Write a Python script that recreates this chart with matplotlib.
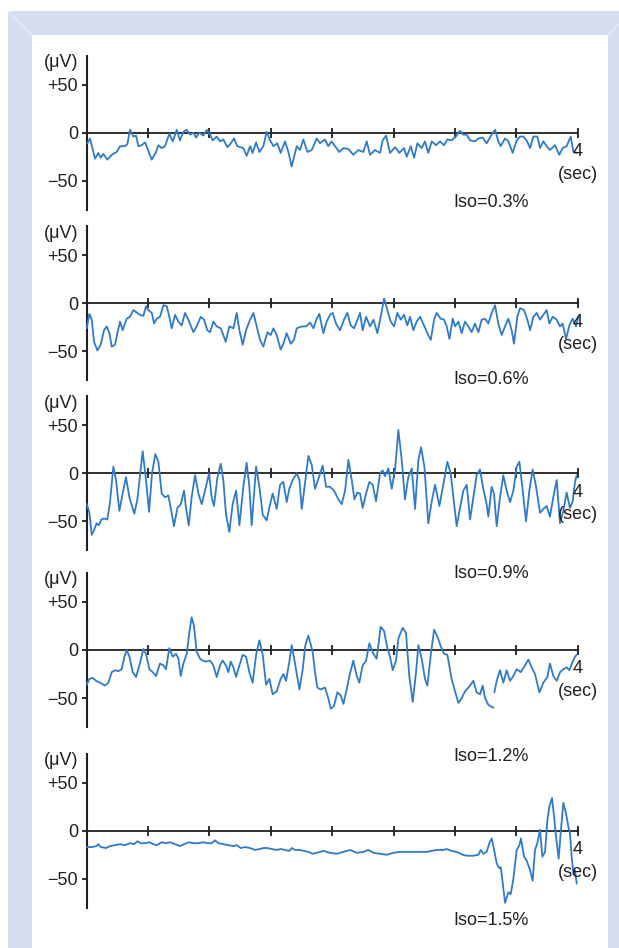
import numpy as np
import matplotlib.pyplot as plt
from matplotlib.patches import Rectangle
from matplotlib.lines import Line2D

plt.rcParams['font.family'] = ['Liberation Sans', 'DejaVu Sans']

# EEG traces: time (sec) and amplitude (uV)
t_iso03 = [0.005, 0.027, 0.068, 0.095, 0.114, 0.136, 0.168, 0.204, 0.244, 0.272, 0.312, 0.331, 0.353, 0.380,
           0.402, 0.421, 0.448, 0.475, 0.530, 0.565, 0.584, 0.611, 0.638, 0.673, 0.701, 0.733, 0.760, 0.788,
           0.815, 0.842, 0.869, 0.891, 0.918, 0.950, 0.978, 1.005, 1.026, 1.059, 1.086, 1.113, 1.146, 1.168,
           1.200, 1.227, 1.276, 1.303, 1.331, 1.352, 1.380, 1.407, 1.439, 1.466, 1.494, 1.521, 1.553, 1.580,
           1.616, 1.643, 1.670, 1.711, 1.738, 1.765, 1.798, 1.833, 1.874, 1.901, 1.941, 1.968, 1.995, 2.023,
           2.058, 2.091, 2.132, 2.172, 2.213, 2.254, 2.281, 2.308, 2.349, 2.390, 2.411, 2.439, 2.471, 2.512,
           2.547, 2.585, 2.607, 2.640, 2.667, 2.694, 2.729, 2.756, 2.783, 2.811, 2.846, 2.878, 2.911, 2.938,
           2.973, 3.014, 3.041, 3.068, 3.096, 3.123, 3.163, 3.191, 3.226, 3.258, 3.299, 3.327, 3.353, 3.372,
           3.408, 3.435, 3.470, 3.503, 3.530, 3.557, 3.584, 3.612, 3.639, 3.671, 3.693, 3.720, 3.747, 3.774,
           3.815, 3.850, 3.877, 3.910, 3.943, 3.965, 3.992]
uv_iso03 = [-11, -6, -27, -21, -26, -22, -28, -23, -20, -14, -14, -12, 3, -4,
            -3, -14, -13, -10, -28, -20, -13, -16, -14, -1, -9, 3, -8, 1,
            3, -2, 0, -5, 0, -3, 3, -2, -8, -4, -9, -7, -15, -12,
            -6, -14, -16, -24, -14, -21, -10, -20, -14, 1, -8, -14, -11, -21,
            -9, -20, -35, -14, -18, -7, -20, -18, -6, -11, -7, -14, -9, -14,
            -20, -16, -17, -23, -18, -20, -9, -23, -18, -21, -8, -3, -21, -15,
            -21, -16, -25, -14, -26, -11, -16, -9, -21, -9, -13, -9, -13, -7,
            -8, -3, 2, -2, -2, -8, -9, -6, -5, -11, -2, 3, -9, -14,
            -6, -9, -21, -8, -4, -4, -8, -16, -4, -4, -16, -9, -14, -18,
            -13, -23, -16, -14, -4, -20, -21]

t_iso06 = [0.000, 0.022, 0.041, 0.060, 0.087, 0.114, 0.141, 0.163, 0.185, 0.204, 0.231, 0.250, 0.272, 0.293,
           0.326, 0.353, 0.380, 0.413, 0.434, 0.462, 0.483, 0.502, 0.530, 0.549, 0.570, 0.597, 0.625, 0.652,
           0.673, 0.692, 0.720, 0.747, 0.774, 0.801, 0.828, 0.869, 0.896, 0.929, 0.956, 0.983, 1.005, 1.032,
           1.059, 1.092, 1.113, 1.132, 1.162, 1.195, 1.222, 1.244, 1.271, 1.298, 1.331, 1.358, 1.385, 1.412,
           1.439, 1.472, 1.499, 1.521, 1.548, 1.580, 1.602, 1.629, 1.662, 1.689, 1.711, 1.752, 1.787, 1.819,
           1.847, 1.874, 1.895, 1.928, 1.955, 1.982, 2.004, 2.031, 2.064, 2.096, 2.124, 2.151, 2.178, 2.200,
           2.227, 2.248, 2.276, 2.308, 2.336, 2.368, 2.395, 2.423, 2.449, 2.477, 2.504, 2.531, 2.558, 2.585,
           2.612, 2.634, 2.661, 2.688, 2.716, 2.748, 2.775, 2.803, 2.830, 2.851, 2.884, 2.911, 2.933, 2.955,
           2.982, 3.001, 3.028, 3.055, 3.082, 3.109, 3.136, 3.163, 3.191, 3.218, 3.245, 3.272, 3.299, 3.327,
           3.353, 3.381, 3.408, 3.435, 3.462, 3.481, 3.508, 3.530, 3.563, 3.590, 3.612, 3.639, 3.666, 3.693,
           3.720, 3.747, 3.769, 3.796, 3.828, 3.856, 3.877, 3.905, 3.932, 3.959, 3.986, 4.005]
uv_iso06 = [-26, -11, -17, -40, -49, -43, -28, -24, -31, -45, -43, -31, -19, -28,
            -16, -14, -7, -10, -12, -13, -3, -7, -10, -21, -16, -14, -2, -3,
            -14, -26, -12, -19, -23, -10, -17, -30, -24, -14, -17, -28, -30, -19,
            -24, -26, -33, -40, -24, -26, -10, -28, -43, -28, -17, -10, -24, -38,
            -45, -30, -33, -26, -33, -48, -42, -31, -42, -38, -26, -24, -24, -20,
            -26, -16, -11, -31, -19, -12, -10, -21, -28, -17, -10, -23, -26, -19,
            -10, -28, -14, -24, -17, -31, -14, 5, -7, -19, -24, -10, -17, -12,
            -23, -14, -28, -19, -14, -23, -31, -38, -17, -10, -16, -17, -24, -37,
            -16, -24, -19, -31, -19, -24, -30, -21, -30, -17, -16, -21, -10, -2,
            -21, -33, -24, -16, -28, -42, -14, -5, -7, -17, -28, -14, -10, -17,
            -12, -7, -21, -14, -17, -24, -21, -37, -23, -16, -24, -14]

t_iso09 = [0.000, 0.022, 0.041, 0.060, 0.081, 0.100, 0.119, 0.141, 0.168, 0.190, 0.217, 0.239, 0.266, 0.293,
           0.320, 0.348, 0.388, 0.413, 0.456, 0.483, 0.508, 0.532, 0.559, 0.584, 0.611, 0.638, 0.665, 0.692,
           0.711, 0.739, 0.766, 0.793, 0.809, 0.831, 0.855, 0.883, 0.910, 0.937, 0.964, 0.997, 1.018, 1.037,
           1.064, 1.092, 1.113, 1.135, 1.162, 1.189, 1.217, 1.244, 1.276, 1.303, 1.325, 1.344, 1.380, 1.407,
           1.434, 1.466, 1.494, 1.515, 1.548, 1.575, 1.602, 1.629, 1.651, 1.678, 1.711, 1.733, 1.752, 1.771,
           1.806, 1.833, 1.860, 1.887, 1.923, 1.950, 1.982, 2.015, 2.050, 2.077, 2.105, 2.132, 2.159, 2.181,
           2.205, 2.227, 2.248, 2.276, 2.303, 2.330, 2.357, 2.390, 2.411, 2.430, 2.458, 2.485, 2.512, 2.539,
           2.566, 2.593, 2.620, 2.648, 2.675, 2.702, 2.724, 2.751, 2.783, 2.811, 2.838, 2.873, 2.906, 2.938,
           2.965, 2.987, 3.014, 3.041, 3.068, 3.096, 3.123, 3.150, 3.177, 3.204, 3.231, 3.258, 3.272, 3.299,
           3.318, 3.340, 3.367, 3.394, 3.421, 3.449, 3.476, 3.503, 3.525, 3.552, 3.579, 3.606, 3.633, 3.661,
           3.693, 3.720, 3.747, 3.774, 3.801, 3.829, 3.856, 3.883, 3.910, 3.937, 3.959, 3.978, 3.992]
uv_iso09 = [-32, -41, -64, -59, -52, -54, -48, -47, -48, -30, 7, -7, -39, -21,
            -4, -25, -42, -27, 23, -7, -40, 0, 20, 12, -21, -25, -23, -41,
            -55, -36, -32, -18, -36, -54, -25, -2, -21, -32, -18, 0, -25, -34,
            -5, 10, -7, -43, -61, -32, -18, -54, -14, 11, -14, -54, 7, -14,
            -43, -49, -32, -21, -37, -12, -9, -30, -16, -7, 0, -7, -37, -18,
            18, 9, -16, -6, 8, -14, -14, -18, -27, -32, -18, 14, -7, -27,
            -20, -21, -36, -21, -9, -12, -29, 0, 3, -3, 5, -16, 4, 45,
            14, -27, -4, 5, -37, 14, 27, 7, -52, -29, -12, -34, -11, 12,
            0, -25, -55, -36, -18, -12, -48, -25, -2, 4, -16, -32, -45, -14,
            -21, -55, -25, -2, -18, -30, -18, 7, 12, -18, -50, -18, 4, -14,
            -41, -37, -34, -45, -25, -7, -52, -39, -20, -36, -29, -9, -2]

t_iso12 = [0.000, 0.022, 0.049, 0.076, 0.109, 0.149, 0.177, 0.204, 0.231, 0.258, 0.285, 0.307, 0.326, 0.348,
           0.375, 0.402, 0.429, 0.462, 0.483, 0.511, 0.538, 0.565, 0.597, 0.625, 0.646, 0.673, 0.701, 0.728,
           0.747, 0.766, 0.788, 0.815, 0.836, 0.855, 0.874, 0.896, 0.923, 0.945, 0.972, 1.005, 1.032, 1.059,
           1.086, 1.108, 1.135, 1.154, 1.173, 1.195, 1.217, 1.244, 1.271, 1.298, 1.325, 1.352, 1.380, 1.407,
           1.434, 1.461, 1.488, 1.515, 1.548, 1.580, 1.602, 1.624, 1.651, 1.670, 1.697, 1.733, 1.760, 1.781,
           1.806, 1.833, 1.841, 1.860, 1.879, 1.906, 1.941, 1.968, 1.988, 2.015, 2.042, 2.069, 2.091, 2.118,
           2.140, 2.172, 2.200, 2.221, 2.248, 2.276, 2.303, 2.336, 2.362, 2.395, 2.422, 2.449, 2.471, 2.493,
           2.520, 2.539, 2.574, 2.601, 2.628, 2.656, 2.683, 2.702, 2.729, 2.756, 2.775, 2.803, 2.830, 2.857,
           2.884, 2.911, 2.938, 2.973, 3.001, 3.028, 3.055, 3.082, 3.123, 3.150, 3.177, 3.204, 3.226, 3.245,
           3.272, 3.299, 3.313, 3.317, 3.321, 3.340, 3.367, 3.394, 3.421, 3.449, 3.476, 3.503, 3.536, 3.571,
           3.598, 3.625, 3.652, 3.688, 3.720, 3.753, 3.774, 3.801, 3.829, 3.856, 3.883, 3.910, 3.932, 3.959,
           3.978, 3.992]
uv_iso12 = [-36, -30, -29, -32, -34, -37, -34, -23, -21, -22, -20, -7, 0, -7,
            -23, -28, -16, 1, -4, -20, -23, -27, -14, -16, -20, 2, -7, -4,
            -9, -27, -14, -4, 18, 34, 25, -2, -9, -11, -12, -11, -16, -28,
            -16, -11, -16, -23, -12, -18, -28, -16, -5, -7, -23, -34, -5, 10,
            -5, -36, -30, -46, -43, -30, -25, -32, -12, 5, -14, -41, -20, 5,
            15, 2, -2, -23, -39, -41, -39, -50, -61, -58, -44, -47, -56, -41,
            -27, -11, -27, -34, -16, -11, 7, -4, -9, 24, 20, 2, -7, -21,
            -11, 12, 23, 18, -27, -54, -23, 5, -9, -30, -37, -5, 21, 14,
            4, -4, -5, -30, -43, -55, -50, -43, -37, -32, -44, -46, -37, -50,
            -57, -59, -60, np.nan, -44, -32, -21, -34, -21, -32, -27, -20, -23, -16,
            -10, -18, -25, -44, -34, -28, -14, -27, -32, -23, -20, -18, -21, -12,
            -7, -5]

t_iso15 = [0.000, 0.041, 0.081, 0.095, 0.114, 0.158, 0.190, 0.231, 0.272, 0.312, 0.353, 0.386, 0.413, 0.440,
           0.475, 0.511, 0.543, 0.570, 0.611, 0.646, 0.679, 0.720, 0.760, 0.793, 0.836, 0.869, 0.910, 0.950,
           0.983, 1.018, 1.045, 1.073, 1.113, 1.154, 1.195, 1.222, 1.255, 1.290, 1.331, 1.371, 1.412, 1.439,
           1.472, 1.507, 1.548, 1.580, 1.616, 1.651, 1.670, 1.697, 1.733, 1.770, 1.806, 1.841, 1.874, 1.928,
           1.982, 2.037, 2.091, 2.145, 2.200, 2.254, 2.295, 2.336, 2.390, 2.444, 2.498, 2.553, 2.607, 2.661,
           2.716, 2.770, 2.811, 2.851, 2.906, 2.933, 2.973, 3.014, 3.063, 3.096, 3.150, 3.191, 3.210, 3.231,
           3.258, 3.280, 3.299, 3.318, 3.340, 3.362, 3.373, 3.389, 3.408, 3.435, 3.454, 3.476, 3.503, 3.525,
           3.538, 3.563, 3.584, 3.612, 3.633, 3.652, 3.671, 3.693, 3.712, 3.734, 3.753, 3.769, 3.791, 3.807,
           3.823, 3.845, 3.861, 3.883, 3.905, 3.924, 3.937, 3.951, 3.965, 3.978, 3.992]
uv_iso15 = [-17, -17, -16, -14, -17, -18, -16, -15, -14, -15, -13, -14, -11, -13,
            -13, -12, -14, -15, -12, -13, -12, -14, -16, -14, -12, -13, -13, -12,
            -13, -13, -10, -13, -14, -15, -16, -15, -18, -17, -18, -20, -19, -18,
            -18, -19, -20, -19, -20, -21, -18, -20, -20, -21, -22, -24, -23, -21,
            -23, -24, -22, -20, -23, -22, -20, -23, -24, -25, -23, -22, -22, -22,
            -22, -22, -21, -20, -20, -19, -21, -22, -25, -26, -26, -25, -20, -24,
            -22, -13, -8, -19, -34, -39, -38, -54, -75, -64, -66, -50, -20, -15,
            -8, -27, -31, -41, -52, -20, -13, 1, -27, -22, 11, 25, 34, 15,
            -6, -29, -3, 29, 18, 4, -3, -27, -45, -41, -55]

traces = [(t_iso03, uv_iso03), (t_iso06, uv_iso06), (t_iso09, uv_iso09),
          (t_iso12, uv_iso12), (t_iso15, uv_iso15)]
iso_labels = ['Iso=0.3%', 'Iso=0.6%', 'Iso=0.9%', 'Iso=1.2%', 'Iso=1.5%']
sec_ticks = [0.5, 1.0, 1.5, 2.0, 2.5, 3.0, 3.5, 4.0]
uv_ticks = [-50, 0, 50]
uv_ticklabels = ['\u221250', '0', '+50']

W, H = 619, 948
frame_col = '#d5ddef'
trace_col = '#2f7bc8'
ink = '#231f20'

fig = plt.figure(figsize=(W / 100, H / 100), dpi=100)


def fx(px):
    return px / W


def fy(py):
    return 1 - py / H


# light blue frame with white inner panel (kept behind the axes)
fig.patches.append(Rectangle((fx(8), 0), 1 - fx(8), fy(11), transform=fig.transFigure,
                             facecolor=frame_col, edgecolor='none', zorder=-3))
fig.patches.append(Rectangle((fx(32), 0), fx(608) - fx(32), fy(35), transform=fig.transFigure,
                             facecolor='white', edgecolor='none', zorder=-2))
fig.lines.append(Line2D([fx(8), fx(32)], [fy(11), fy(35)], transform=fig.transFigure,
                        color='#e6ebf6', lw=0.8, zorder=-1))
fig.lines.append(Line2D([fx(608), fx(632)], [fy(35), fy(11)], transform=fig.transFigure,
                        color='#e6ebf6', lw=0.8, zorder=-1))

# pixel row of each zero line, and how far below it the Iso label sits
zero_px = [132.7, 303.3, 473.3, 650.0, 830.7]
iso_drop_pt = [-50, -55, -72, -77, -65]
half_px = 77
x0_px, x1_px = 86.7, 577.7

for i, (t, uv) in enumerate(traces):
    z = zero_px[i]
    ax = fig.add_axes([fx(x0_px), fy(z + half_px), fx(x1_px) - fx(x0_px), 2 * half_px / H])
    ax.patch.set_alpha(0)
    ax.set_xlim(0, 4)
    ax.set_ylim(-80, 80)
    ax.spines['top'].set_visible(False)
    ax.spines['right'].set_visible(False)
    ax.spines['bottom'].set_position(('data', 0))
    ax.spines['left'].set_linewidth(1.5)
    ax.spines['bottom'].set_linewidth(1.3)
    ax.spines['left'].set_color(ink)
    ax.spines['bottom'].set_color(ink)
    ax.set_xticks(sec_ticks)
    ax.tick_params(axis='x', direction='inout', length=7, width=1.3, color=ink, labelbottom=False)
    ax.set_yticks(uv_ticks)
    ax.set_yticklabels(uv_ticklabels)
    ax.tick_params(axis='y', direction='out', length=3.6, width=1.3, color=ink, pad=2.5,
                   labelsize=13, labelcolor=ink)

    ax.plot(t, uv, color=trace_col, lw=1.3, clip_on=False, zorder=3,
            solid_joinstyle='round', solid_capstyle='round')

    ax.annotate('(\u03bcV)', xy=(0, 73), xytext=(-6, 0), textcoords='offset points',
                ha='right', va='center', fontsize=13, color=ink, annotation_clip=False)
    ax.annotate('4', xy=(4, 0), xytext=(0, -13.5), textcoords='offset points',
                ha='center', va='center', fontsize=13, color=ink, annotation_clip=False)
    ax.annotate('(sec)', xy=(4, 0), xytext=(0, -30), textcoords='offset points',
                ha='center', va='center', fontsize=13, color=ink, annotation_clip=False)
    ax.annotate(iso_labels[i], xy=(3.294, 0), xytext=(0, iso_drop_pt[i]), textcoords='offset points',
                ha='center', va='center', fontsize=13, color=ink, annotation_clip=False)

fig.savefig('out.png', dpi=100)
